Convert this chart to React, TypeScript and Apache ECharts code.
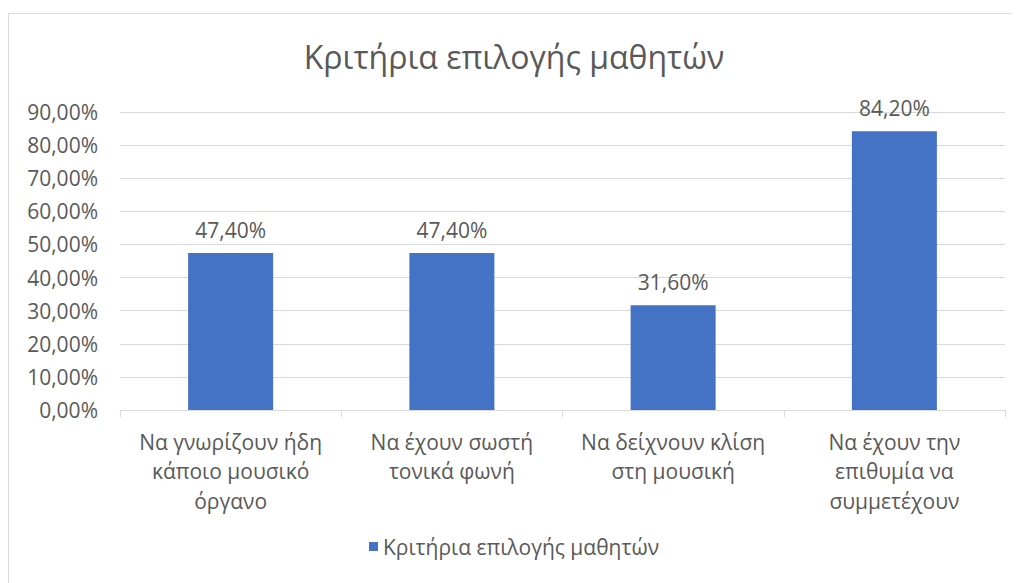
import React, { useEffect, useRef } from "react";
import * as echarts from "echarts";

const categories = [
  "Να γνωρίζουν ήδη\nκάποιο μουσικό\nόργανο",
  "Να έχουν σωστή\nτονικά φωνή",
  "Να δείχνουν κλίση\nστη μουσική",
  "Να έχουν την\nεπιθυμία να\nσυμμετέχουν",
];
const values = [47.4, 47.4, 31.6, 84.2];
const seriesName = "Κριτήρια επιλογής μαθητών";
const titleText = "Κριτήρια επιλογής μαθητών";

const FONT = "'Open Sans', 'Noto Sans', sans-serif";
const TEXT = "#595959";
const fmt = (v: number) => v.toFixed(2).replace(".", ",") + "%";

export default function App() {
  const ref = useRef<HTMLDivElement>(null);
  useEffect(() => {
    if (!ref.current) return;
    const chart = echarts.init(ref.current, undefined, { renderer: "svg" });
    chart.setOption({
      animation: false,
      backgroundColor: "#fff",
      textStyle: { fontFamily: FONT },
      graphic: [
        {
          type: "rect",
          shape: { x: 0.5, y: 5.5, width: 1100, height: 700 },
          style: { fill: "none", stroke: "#D9D9D9", lineWidth: 1 },
          silent: true,
        },
      ],
      title: {
        text: titleText,
        left: "center",
        top: 27,
        textStyle: { fontFamily: FONT, fontSize: 32, fontWeight: "normal", color: TEXT },
      },
      legend: {
        bottom: 21,
        left: "center",
        icon: "rect",
        itemWidth: 9,
        itemHeight: 9,
        itemGap: 7,
        textStyle: { fontFamily: FONT, fontSize: 21, color: TEXT },
        data: [seriesName],
      },
      grid: { left: 112, right: 15, top: 104, height: 298, containLabel: false },
      xAxis: {
        type: "category",
        data: categories,
        axisLine: { show: true, lineStyle: { color: "#D9D9D9", width: 1 } },
        axisTick: { show: true, length: 7, lineStyle: { color: "#D9D9D9" }, alignWithLabel: false },
        axisLabel: {
          interval: 0,
          fontFamily: FONT,
          fontSize: 21,
          color: TEXT,
          lineHeight: 29.5,
          margin: 17,
        },
      },
      yAxis: {
        type: "value",
        min: 0,
        max: 90,
        interval: 10,
        axisLine: { show: false },
        axisTick: { show: false },
        splitLine: { show: true, lineStyle: { color: "#D9D9D9", width: 1 } },
        axisLabel: {
          formatter: (v: number) => fmt(v),
          fontFamily: FONT,
          fontSize: 21,
          color: TEXT,
          margin: 22,
        },
      },
      series: [
        {
          name: seriesName,
          type: "bar",
          data: values,
          barWidth: 85,
          itemStyle: { color: "#4472C4" },
          label: {
            show: true,
            position: "top",
            distance: 13,
            formatter: (p: any) => fmt(p.value),
            fontFamily: FONT,
            fontSize: 21,
            color: TEXT,
          },
        },
      ],
    });
    return () => chart.dispose();
  }, []);
  return <div ref={ref} style={{ width: 1012, height: 575 }} />;
}
